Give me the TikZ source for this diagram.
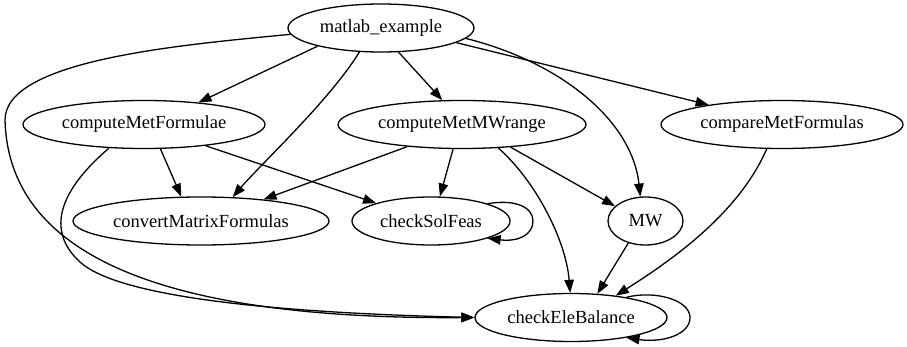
\documentclass[tikz,border=0pt]{standalone}
\usepackage{fontspec}
\setmainfont{Liberation Serif}
\usetikzlibrary{arrows.meta,shapes.geometric}
\begin{document}
\begin{tikzpicture}[x=1pt,y=-1pt,
  func/.style={draw, ellipse, line width=1.3pt, inner sep=0pt,
    minimum height=48pt, font=\fontsize{18.5}{20}\selectfont},
  call/.style={line width=1.3pt, -{Triangle[length=13pt,width=9.5pt]}}]
\useasboundingbox (0,0) rectangle (907,347);

% functions
\node[func, minimum width=186pt] (m)   at (381,28)    {matlab\_example};
\node[func, minimum width=242pt] (cMF) at (144,124.5) {computeMetFormulae};
\node[func, minimum width=248pt] (cMW) at (462,124.5) {computeMetMWrange};
\node[func, minimum width=242pt] (cmp) at (782,124.5) {compareMetFormulas};
\node[func, minimum width=256pt] (cvt) at (201,221)   {convertMatrixFormulas};
\node[func, minimum width=158pt] (csf) at (431,221)   {checkSolFeas};
\node[func, minimum width=75pt]  (mw)  at (645.5,221) {MW};
\node[func, minimum width=192pt] (ceb) at (571,317.5) {checkEleBalance};

% calls from matlab_example
\draw[call] (m.196) -- (cMF.22);
\draw[call] (m.-132) .. controls (330,100) and (260,165) .. (cvt.37);
\draw[call] (m.-54) -- (cMW.129);
\draw[call] (m.-7) .. controls (560,62) and (632,120) .. (mw.102);
\draw[call] (m.-11) -- (cmp.165);
\draw[call] (m.184) .. controls (180,45) and (5,60) .. (5,120)
                    .. controls (8,230) and (110,320) .. (ceb.west);

% calls from computeMetFormulae
\draw[call] (cMF.-56) -- (cvt.129);
\draw[call] (cMF.-19) -- (csf.162);
\draw[call] (cMF.-146) .. controls (60,190) and (45,230) .. (80,262)
                       .. controls (115,294) and (250,312) .. (ceb.west);

% calls from computeMetMWrange
\draw[call] (cMW.-158) -- (cvt.19);
\draw[call] (cMW.-110) -- (csf.70);
\draw[call] (cMW.-25) -- (mw.154);
\draw[call] (cMW.-33) .. controls (535,180) and (566,240) .. (ceb.92);

% remaining calls
\draw[call] (cmp.-122) .. controls (740,210) and (680,255) .. (ceb.26);
\draw[call] (mw.-128) -- (ceb.42);

% recursive calls
\draw[call] (csf.17) .. controls (515,199) and (533,207) .. (533,221)
                     .. controls (533,235) and (518,242) .. (csf.-17);
\draw[call] (ceb.20) .. controls (655,290) and (690,300) .. (690,317.5)
                     .. controls (690,335) and (662,343) .. (ceb.-20);
\end{tikzpicture}
\end{document}
